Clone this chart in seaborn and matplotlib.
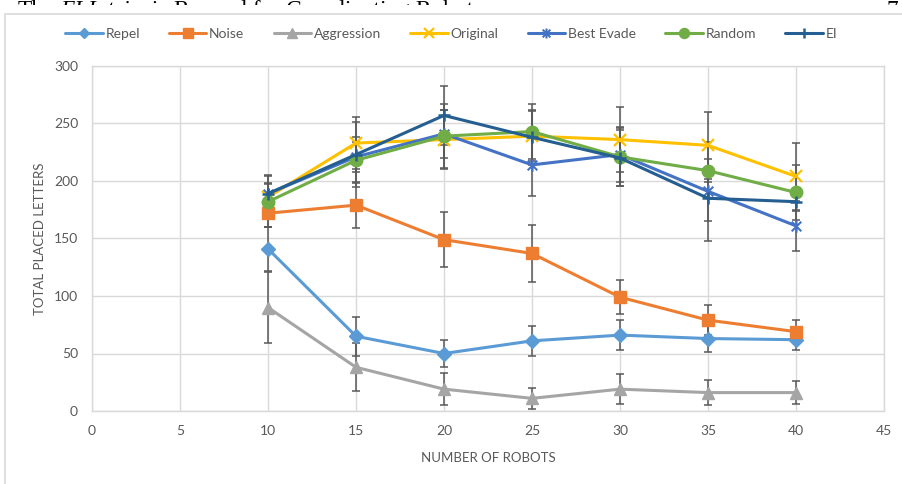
import matplotlib
matplotlib.use("Agg")
import matplotlib.pyplot as plt
from matplotlib.patches import Rectangle
from matplotlib.path import Path
import seaborn as sns
import pandas as pd

# Robots per run and mean total placed letters (with std. deviation) per strategy
robots = [10, 15, 20, 25, 30, 35, 40]
series_names = ["Repel", "Noise", "Aggression", "Original", "Best Evade", "Random", "EI"]

repel = [141, 65, 50, 61, 66, 63, 62]
repel_err = [19, 17, 12, 13, 13, 12, 9]
noise = [172, 179, 149, 137, 99, 79, 69]
noise_err = [12, 20, 24, 25, 15, 13, 10]
aggression = [90, 38, 19, 11, 19, 16, 16]
aggression_err = [31, 21, 14, 9, 13, 11, 10]
original = [186, 233, 236, 239, 236, 231, 204]
original_err = [12, 23, 26, 22, 28, 29, 29]
best_evade = [189, 221, 241, 214, 223, 191, 161]
best_evade_err = [8, 13, 21, 27, 24, 43, 22]
random_walk = [182, 218, 239, 243, 221, 209, 190]
random_err = [22, 20, 28, 24, 25, 10, 24]
ei = [189, 223, 257, 238, 220, 185, 182]
ei_err = [16, 28, 26, 24, 24, 20, 8]

x_ticks = [0, 5, 10, 15, 20, 25, 30, 35, 40, 45]
y_ticks = [0, 50, 100, 150, 200, 250, 300]

means = [repel, noise, aggression, original, best_evade, random_walk, ei]
errors = [repel_err, noise_err, aggression_err, original_err, best_evade_err, random_err, ei_err]

# Star marker: an "x" crossed by a vertical stroke
star = Path([(-1, -1), (1, 1), (-1, 1), (1, -1), (0, -1.3), (0, 1.3)],
            [Path.MOVETO, Path.LINETO, Path.MOVETO, Path.LINETO, Path.MOVETO, Path.LINETO])

colors = ["#5B9BD5", "#ED7D31", "#A5A5A5", "#FFC000", "#4472C4", "#70AD47", "#255E91"]
markers = ["D", "s", "^", "x", star, "o", "+"]
msizes = [7, 9, 8.5, 8.5, 9, 9, 9]
mew = [1, 1, 1, 1.6, 1.5, 1, 1.8]

rows = []
for name, m, e in zip(series_names, means, errors):
    for r, v, s in zip(robots, m, e):
        rows.append({"robots": r, "letters": v, "sd": s, "strategy": name})
df = pd.DataFrame(rows)

sns.set_theme(style="white")
plt.rcParams["font.family"] = ["Lato", "DejaVu Sans"]

W, H = 902, 484
fig = plt.figure(figsize=(W / 100, H / 100), dpi=100)
fig.patch.set_facecolor("white")

# Running page header above the chart frame
renderer = fig.canvas.get_renderer()
hx = 18 / W
hy = 1 - 16 / H
for piece, style in [("The", "normal"), ("EI Intrinsic", "italic"),
                     ("Reward for Coordinating Robots", "normal")]:
    t = fig.text(hx, hy, piece, family="Liberation Serif", style=style,
                 fontsize=16.8, color="black", va="baseline", zorder=-3)
    hx += (t.get_window_extent(renderer).width + 6) / W
fig.text(886 / W, hy, "7", family="Liberation Serif", fontsize=16.8,
         color="black", va="baseline", zorder=-3)

# Chart area (white) with a thin frame
fig.add_artist(Rectangle((0, 0), 1, 1 - 5 / H, transform=fig.transFigure,
                         facecolor="white", edgecolor="none", zorder=-2))
fig.add_artist(Rectangle((5 / W, -0.1), 1.2, 1.1 - 14 / H, transform=fig.transFigure,
                         facecolor="none", edgecolor="#D9D9D9", lw=1.2, zorder=-1))

ax = fig.add_axes([92 / W, 1 - 411 / H, (884 - 92) / W, (411 - 66) / H])
ax.set_facecolor("none")

for i, name in enumerate(series_names):
    sub = df[df["strategy"] == name]
    ax.errorbar(sub["robots"], sub["letters"], yerr=sub["sd"], fmt="none",
                ecolor="#595959", elinewidth=1.1, capsize=3, capthick=1.1,
                zorder=2 + i * 0.1)
    sns.lineplot(data=sub, x="robots", y="letters", ax=ax, color=colors[i],
                 marker=markers[i], markersize=msizes[i], markeredgewidth=mew[i],
                 markeredgecolor=colors[i], lw=2.2, label=name,
                 zorder=3 + i * 0.1, legend=False, errorbar=None)

ax.set_xlim(0, 45)
ax.set_ylim(0, 300)
ax.set_xticks(x_ticks)
ax.set_yticks(y_ticks)
ax.grid(True, color="#D9D9D9", lw=1)
ax.set_axisbelow(True)
for sp in ax.spines.values():
    sp.set_color("#D9D9D9")
    sp.set_linewidth(1)
ax.tick_params(axis="both", length=0, labelsize=10, labelcolor="#595959")
ax.tick_params(axis="x", pad=10)
ax.tick_params(axis="y", pad=10)

ax.set_xlabel("NUMBER OF ROBOTS", fontsize=9.5, color="#595959")
ax.set_ylabel("TOTAL PLACED LETTERS", fontsize=9.5, color="#595959")
ax.xaxis.set_label_coords(0.5, -(458 - 411) / (411 - 66))
ax.xaxis.label.set_va("center")
ax.yaxis.set_label_coords(-(92 - 40) / (884 - 92), 0.5)
ax.yaxis.label.set_va("center")

handles, labels = ax.get_legend_handles_labels()
fig.legend(handles, labels, loc="center", bbox_to_anchor=(0.5, 1 - 34 / H),
           ncol=7, frameon=False, fontsize=10, labelcolor="#595959",
           handlelength=2.7, handletextpad=0.2, columnspacing=2.1,
           numpoints=1, markerscale=0.8)

fig.savefig("out.png", dpi=100, facecolor="white")
